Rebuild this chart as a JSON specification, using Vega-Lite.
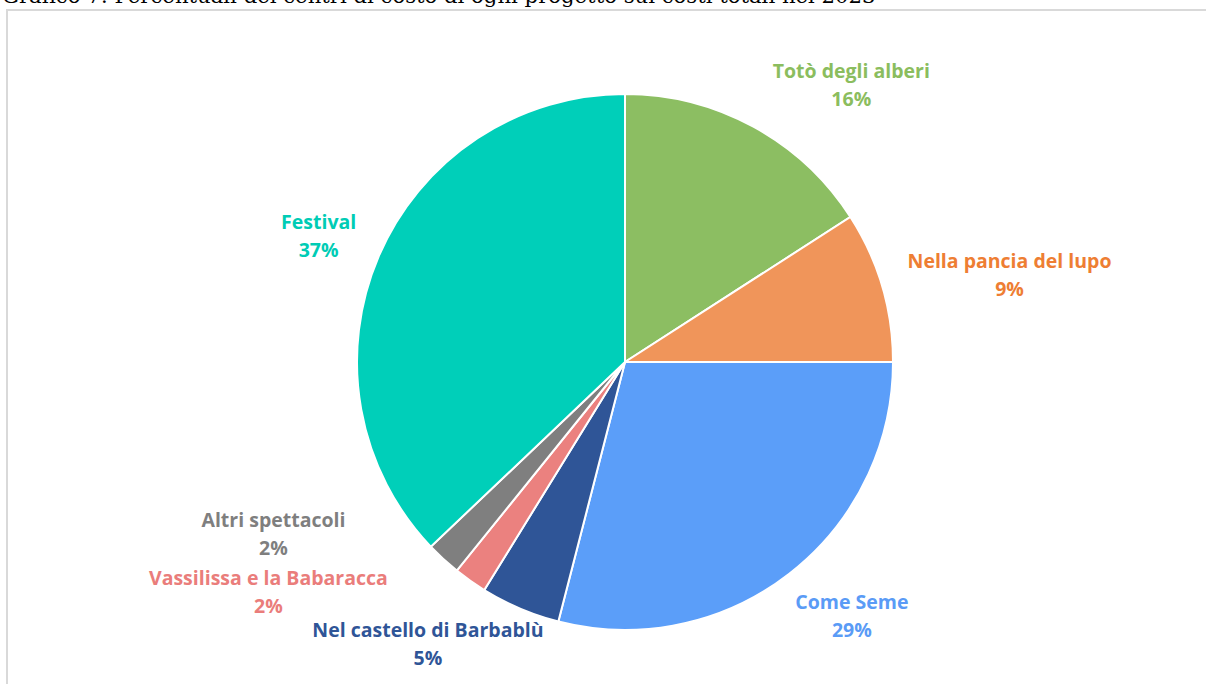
{
  "$schema": "https://vega.github.io/schema/vega-lite/v6.json",
  "width": 1236,
  "height": 704,
  "autosize": {"type": "none"},
  "padding": {"left": 7, "top": 10, "right": 0, "bottom": 0},
  "background": "white",
  "title": {
    "text": "Grafico 7: Percentuali dei centri di costo di ogni progetto sui costi totali nel 2023",
    "anchor": "start",
    "frame": "group",
    "font": "DejaVu Serif",
    "fontSize": 21.2,
    "fontWeight": "normal",
    "color": "#000000",
    "dx": -5,
    "dy": 21,
    "offset": 2,
    "baseline": "alphabetic"
  },
  "view": {"stroke": "#d9d9d9", "strokeWidth": 2},
  "data": {
    "values": [
      {"progetto": "Totò degli alberi", "quota": 0.159, "ordine": 1},
      {"progetto": "Nella pancia del lupo", "quota": 0.091, "ordine": 2},
      {"progetto": "Come Seme", "quota": 0.290, "ordine": 3},
      {"progetto": "Nel castello di Barbablù", "quota": 0.048, "ordine": 4},
      {"progetto": "Vassilissa e la Babaracca", "quota": 0.020, "ordine": 5},
      {"progetto": "Altri spettacoli", "quota": 0.021, "ordine": 6},
      {"progetto": "Festival", "quota": 0.371, "ordine": 7}
    ]
  },
  "encoding": {
    "theta": {"field": "quota", "type": "quantitative", "stack": true},
    "order": {"field": "ordine", "type": "quantitative"}
  },
  "layer": [
    {"mark": {"type": "arc", "outerRadius": 268, "stroke": "white", "strokeWidth": 2},
     "encoding": {
       "color": {
         "field": "progetto",
         "type": "nominal",
         "scale": {
           "domain": ["Totò degli alberi", "Nella pancia del lupo", "Come Seme", "Nel castello di Barbablù", "Vassilissa e la Babaracca", "Altri spettacoli", "Festival"],
           "range": ["#8cbe62", "#f0955a", "#5b9ef9", "#2f5597", "#eb817f", "#7f7f7f", "#00cfb9"]
         },
         "legend": null
       }
     }},

    {"mark": {"type": "text", "radius": 357, "thetaOffset": 0.187, "dy": -14, "font": "Open Sans", "fontWeight": "bold", "fontSize": 19.5, "align": "center", "baseline": "middle", "color": "#8bbd5e"},
     "encoding": {"text": {"condition": {"test": "datum.progetto === 'Totò degli alberi'", "field": "progetto"}, "value": ""}}},
    {"mark": {"type": "text", "radius": 357, "thetaOffset": 0.187, "dy": 14, "font": "Open Sans", "fontWeight": "bold", "fontSize": 19.5, "align": "center", "baseline": "middle", "color": "#8bbd5e"},
     "encoding": {"text": {"condition": {"test": "datum.progetto === 'Totò degli alberi'", "field": "quota", "format": ".0%"}, "value": ""}}},

    {"mark": {"type": "text", "radius": 394, "thetaOffset": 0.066, "dy": -14, "font": "Open Sans", "fontWeight": "bold", "fontSize": 19.5, "align": "center", "baseline": "middle", "color": "#ee7e33"},
     "encoding": {"text": {"condition": {"test": "datum.progetto === 'Nella pancia del lupo'", "field": "progetto"}, "value": ""}}},
    {"mark": {"type": "text", "radius": 394, "thetaOffset": 0.066, "dy": 14, "font": "Open Sans", "fontWeight": "bold", "fontSize": 19.5, "align": "center", "baseline": "middle", "color": "#ee7e33"},
     "encoding": {"text": {"condition": {"test": "datum.progetto === 'Nella pancia del lupo'", "field": "quota", "format": ".0%"}, "value": ""}}},

    {"mark": {"type": "text", "radius": 341, "thetaOffset": -0.068, "dy": -14, "font": "Open Sans", "fontWeight": "bold", "fontSize": 19.5, "align": "center", "baseline": "middle", "color": "#5a9bf6"},
     "encoding": {"text": {"condition": {"test": "datum.progetto === 'Come Seme'", "field": "progetto"}, "value": ""}}},
    {"mark": {"type": "text", "radius": 341, "thetaOffset": -0.068, "dy": 14, "font": "Open Sans", "fontWeight": "bold", "fontSize": 19.5, "align": "center", "baseline": "middle", "color": "#5a9bf6"},
     "encoding": {"text": {"condition": {"test": "datum.progetto === 'Come Seme'", "field": "quota", "format": ".0%"}, "value": ""}}},

    {"mark": {"type": "text", "radius": 345, "thetaOffset": 0.206, "dy": -14, "font": "Open Sans", "fontWeight": "bold", "fontSize": 19.5, "align": "center", "baseline": "middle", "color": "#2f5597"},
     "encoding": {"text": {"condition": {"test": "datum.progetto === 'Nel castello di Barbablù'", "field": "progetto"}, "value": ""}}},
    {"mark": {"type": "text", "radius": 345, "thetaOffset": 0.206, "dy": 14, "font": "Open Sans", "fontWeight": "bold", "fontSize": 19.5, "align": "center", "baseline": "middle", "color": "#2f5597"},
     "encoding": {"text": {"condition": {"test": "datum.progetto === 'Nel castello di Barbablù'", "field": "quota", "format": ".0%"}, "value": ""}}},

    {"mark": {"type": "text", "radius": 425, "thetaOffset": 0.380, "dy": -14, "font": "Open Sans", "fontWeight": "bold", "fontSize": 19.5, "align": "center", "baseline": "middle", "color": "#ea7d7b"},
     "encoding": {"text": {"condition": {"test": "datum.progetto === 'Vassilissa e la Babaracca'", "field": "progetto"}, "value": ""}}},
    {"mark": {"type": "text", "radius": 425, "thetaOffset": 0.380, "dy": 14, "font": "Open Sans", "fontWeight": "bold", "fontSize": 19.5, "align": "center", "baseline": "middle", "color": "#ea7d7b"},
     "encoding": {"text": {"condition": {"test": "datum.progetto === 'Vassilissa e la Babaracca'", "field": "quota", "format": ".0%"}, "value": ""}}},

    {"mark": {"type": "text", "radius": 392, "thetaOffset": 0.368, "dy": -14, "font": "Open Sans", "fontWeight": "bold", "fontSize": 19.5, "align": "center", "baseline": "middle", "color": "#7f7f7f"},
     "encoding": {"text": {"condition": {"test": "datum.progetto === 'Altri spettacoli'", "field": "progetto"}, "value": ""}}},
    {"mark": {"type": "text", "radius": 392, "thetaOffset": 0.368, "dy": 14, "font": "Open Sans", "fontWeight": "bold", "fontSize": 19.5, "align": "center", "baseline": "middle", "color": "#7f7f7f"},
     "encoding": {"text": {"condition": {"test": "datum.progetto === 'Altri spettacoli'", "field": "quota", "format": ".0%"}, "value": ""}}},

    {"mark": {"type": "text", "radius": 331, "thetaOffset": -0.017, "dy": -14, "font": "Open Sans", "fontWeight": "bold", "fontSize": 19.5, "align": "center", "baseline": "middle", "color": "#00ccb5"},
     "encoding": {"text": {"condition": {"test": "datum.progetto === 'Festival'", "field": "progetto"}, "value": ""}}},
    {"mark": {"type": "text", "radius": 331, "thetaOffset": -0.017, "dy": 14, "font": "Open Sans", "fontWeight": "bold", "fontSize": 19.5, "align": "center", "baseline": "middle", "color": "#00ccb5"},
     "encoding": {"text": {"condition": {"test": "datum.progetto === 'Festival'", "field": "quota", "format": ".0%"}, "value": ""}}}
  ]
}
